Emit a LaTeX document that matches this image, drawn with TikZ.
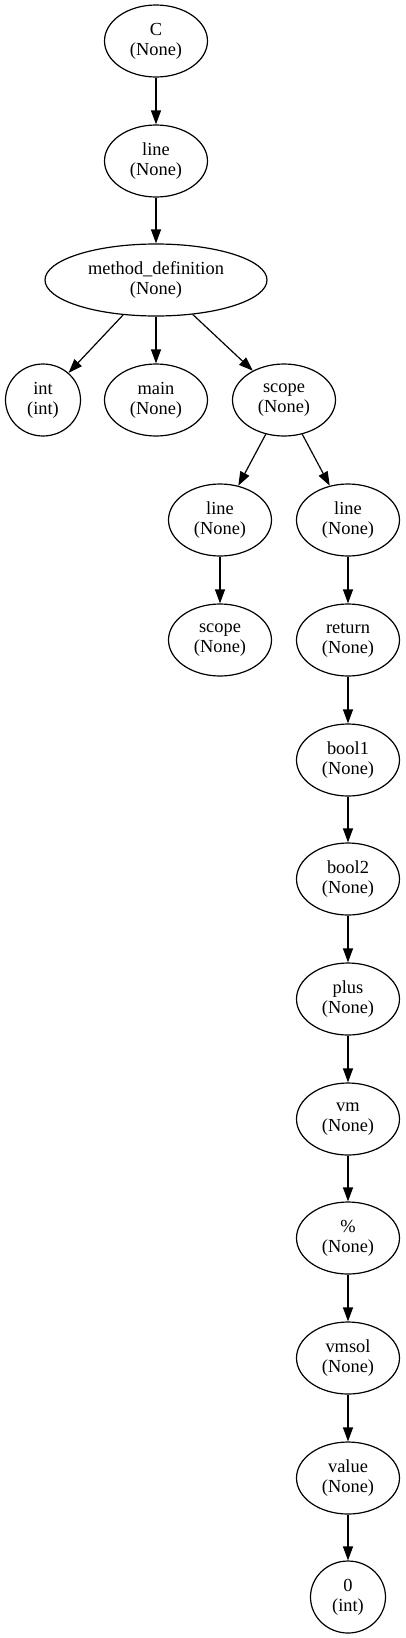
\documentclass[tikz,border=0pt]{standalone}
\usepackage{fontspec}
\setmainfont{Liberation Serif}
\usetikzlibrary{shapes.geometric, arrows.meta}

\tikzset{
  ast/.style={draw, ellipse, line width=0.6pt, inner sep=0pt, align=center,
    minimum width=51.5pt, minimum height=36pt,
    font=\fontsize{9.2}{10}\selectfont},
  astnarrow/.style={ast, minimum width=37.5pt},
  astwide/.style={ast, minimum width=111pt},
  edge/.style={line width=0.6pt, -{Triangle[length=7pt, width=5pt]}}
}

\begin{document}
\begin{tikzpicture}[x=0.5pt, y=-0.5pt]
    \useasboundingbox (0,0) rectangle (406,1638);
    % Top of the tree
    \node[ast] (c) at (156,41) {C\\(None)};
    \node[ast] (line1) at (156,161) {line\\(None)};
    \node[astwide] (mdef) at (156,280) {method\_definition\\(None)};
    % Children of method_definition
    \node[astnarrow] (int) at (43,400) {int\\(int)};
    \node[ast] (main) at (156,400) {main\\(None)};
    \node[ast] (scope1) at (284,400) {scope\\(None)};
    % Two lines in the scope
    \node[ast] (line2) at (220,520) {line\\(None)};
    \node[ast] (line3) at (348,520) {line\\(None)};
    \node[ast] (scope2) at (220,640) {scope\\(None)};
    % Return chain
    \node[ast] (ret) at (348,640) {return\\(None)};
    \node[ast] (bool1) at (348,760) {bool1\\(None)};
    \node[ast] (bool2) at (348,879) {bool2\\(None)};
    \node[ast] (plus) at (348,999) {plus\\(None)};
    \node[ast] (vm) at (348,1119) {vm\\(None)};
    \node[ast] (mod) at (348,1238) {\%\\(None)};
    \node[ast] (vmsol) at (348,1358) {vmsol\\(None)};
    \node[ast] (val) at (348,1478) {value\\(None)};
    \node[astnarrow] (zero) at (348,1597) {0\\(int)};
    % Edges
    \draw[edge] (c) -- (line1);
    \draw[edge] (line1) -- (mdef);
    \draw[edge] (mdef) -- (int);
    \draw[edge] (mdef) -- (main);
    \draw[edge] (mdef) -- (scope1);
    \draw[edge] (scope1) -- (line2);
    \draw[edge] (scope1) -- (line3);
    \draw[edge] (line2) -- (scope2);
    \draw[edge] (line3) -- (ret);
    \draw[edge] (ret) -- (bool1);
    \draw[edge] (bool1) -- (bool2);
    \draw[edge] (bool2) -- (plus);
    \draw[edge] (plus) -- (vm);
    \draw[edge] (vm) -- (mod);
    \draw[edge] (mod) -- (vmsol);
    \draw[edge] (vmsol) -- (val);
    \draw[edge] (val) -- (zero);
\end{tikzpicture}
\end{document}
